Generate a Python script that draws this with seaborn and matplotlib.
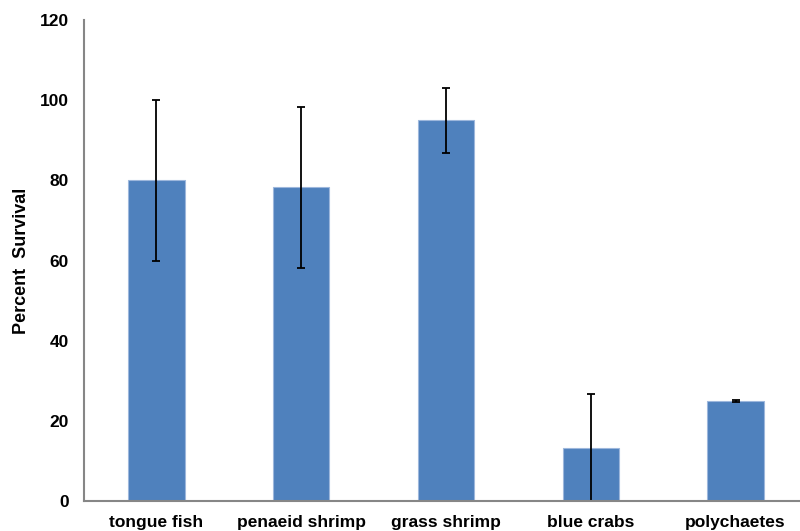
import numpy as np
import pandas as pd
import matplotlib
matplotlib.use("Agg")
import matplotlib.pyplot as plt
import seaborn as sns

# values
groups = ["tongue fish", "penaeid shrimp", "grass shrimp", "blue crabs", "polychaetes"]
survival = [80.0, 78.3, 95.0, 13.3, 25.0]
errors = [20.0, 20.1, 8.1, 13.3, 0.25]
yticks = [0, 20, 40, 60, 80, 100, 120]

df = pd.DataFrame({"group": groups, "survival": survival})

sns.set_style("white", {"text.color": "black", "xtick.color": "black",
                        "ytick.color": "black", "axes.labelcolor": "black"})
plt.rcParams['font.family'] = ['Liberation Sans', 'DejaVu Sans']

fig = plt.figure(figsize=(8, 5.31), dpi=100)
ax = fig.add_axes([0.105, 0.0565, 0.905, 0.9058])

sns.barplot(data=df, x="group", y="survival", color="#4F81BD", width=0.39,
            saturation=1, edgecolor="#9DB7DC", linewidth=0.8, ax=ax)

ax.errorbar(np.arange(len(groups)), survival, yerr=errors, fmt="none",
            ecolor="black", elinewidth=1.3, capsize=3, capthick=1.3)

ax.set_ylim(0, 120)
ax.set_xlim(-0.5, len(groups) - 0.5)
ax.set_yticks(yticks)
ax.set_yticklabels([str(v) for v in yticks], fontsize=12.5, fontweight="bold")
ax.set_xticks(range(len(groups)))
ax.set_xticklabels(groups, fontsize=12.5, fontweight="bold")
ax.set_xticks(np.arange(-0.5, len(groups)), minor=True)
ax.tick_params(axis="x", which="major", length=0, pad=10, labelcolor="black")
ax.tick_params(axis="x", which="minor", length=5, color="#868686", width=1)
ax.tick_params(axis="y", length=5, color="#868686", width=1, pad=6, labelcolor="black")

ax.set_xlabel("")
ax.set_ylabel("Percent  Survival", fontsize=13, fontweight="bold", labelpad=7,
              color="black")

for s in ["top", "right"]:
    ax.spines[s].set_visible(False)
for s in ["left", "bottom"]:
    ax.spines[s].set_color("#868686")
    ax.spines[s].set_linewidth(1.5)

fig.savefig("out.png", dpi=100)
